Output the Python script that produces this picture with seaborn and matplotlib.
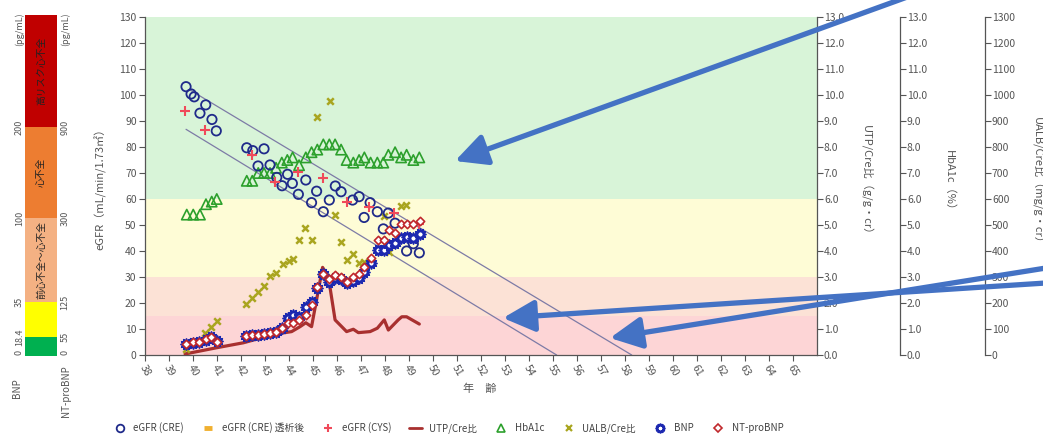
import numpy as np
import pandas as pd
import matplotlib
matplotlib.use("Agg")
import matplotlib.pyplot as plt
from matplotlib.lines import Line2D
from matplotlib.patches import FancyArrowPatch
import seaborn as sns

sns.set_style("ticks")
plt.rcParams["font.family"] = ["Noto Sans CJK JP", "DejaVu Sans"]

# ---------------- data ----------------
# eGFR (creatinine based), mL/min/1.73m2
cre_age = [39.71, 39.92, 40.05, 40.29, 40.53, 40.79, 40.97, 42.24, 42.49, 42.71, 42.96,
           43.21, 43.49, 43.71, 43.94, 44.14, 44.39, 44.70, 44.94, 45.15, 45.43, 45.68,
           45.93, 46.17, 46.65, 46.92, 47.13, 47.38, 47.68, 47.93, 48.14, 48.42, 48.90,
           49.18, 49.43]
cre_egfr = [103.2, 100.4, 99.3, 93.0, 96.2, 90.6, 86.2, 79.7, 78.6, 72.7, 79.3,
            73.1, 68.3, 65.1, 69.5, 66.0, 61.8, 67.3, 58.6, 63.0, 55.1, 59.6,
            65.0, 62.8, 59.6, 60.9, 52.9, 58.6, 55.1, 48.5, 54.6, 50.7, 40.0,
            42.8, 39.3]

# eGFR (cystatin C based)
cys_age = [39.67, 40.50, 42.45, 43.42, 44.39, 45.40, 46.40, 47.35, 48.38, 49.40]
cys_egfr = [93.8, 86.5, 76.9, 66.4, 70.5, 68.2, 59.0, 56.8, 54.6, 50.5]

# urinary total protein / creatinine ratio, g/g·cr
utp_age = [39.67, 40.99, 42.10, 42.93, 43.63, 44.11, 44.46, 44.70, 44.94, 45.40, 45.64,
           45.92, 46.40, 46.68, 46.89, 47.38, 47.68, 47.97, 48.14, 48.55, 48.70, 48.90, 49.43]
utp_val = [0.04, 0.28, 0.47, 0.68, 0.83, 0.90, 1.09, 1.24, 1.09, 3.37, 3.01,
           1.35, 0.90, 0.99, 0.86, 0.90, 1.03, 1.35, 0.96, 1.35, 1.47, 1.47, 1.19]

# HbA1c, %
hba1c_age = [39.74, 40.01, 40.29, 40.54, 40.78, 40.99, 42.24, 42.47, 42.72, 42.96, 43.21,
             43.46, 43.70, 43.93, 44.15, 44.42, 44.70, 44.94, 45.18, 45.43, 45.68, 45.92,
             46.17, 46.40, 46.68, 46.92, 47.14, 47.40, 47.68, 47.93, 48.14, 48.42, 48.67,
             48.90, 49.18, 49.43]
hba1c_val = [5.4, 5.4, 5.4, 5.8, 5.9, 6.0, 6.7, 6.7, 7.0, 7.0, 7.0,
             7.2, 7.4, 7.5, 7.6, 7.3, 7.6, 7.8, 7.9, 8.1, 8.1, 8.1,
             7.9, 7.5, 7.4, 7.5, 7.6, 7.4, 7.4, 7.4, 7.7, 7.8, 7.6,
             7.7, 7.5, 7.6]

# urinary albumin / creatinine ratio, mg/g·cr
ualb_age = [39.70, 40.50, 40.75, 40.98, 42.21, 42.47, 42.72, 42.96, 43.21, 43.46, 43.74,
            43.99, 44.15, 44.40, 44.68, 44.94, 45.15, 45.71, 45.92, 46.16, 46.41, 46.68,
            46.90, 47.12, 47.97, 48.15, 48.65, 48.89]
ualb_val = [25, 86, 106, 131, 196, 218, 244, 265, 304, 314, 350,
            363, 368, 442, 490, 441, 917, 977, 538, 436, 365, 387,
            353, 359, 534, 397, 575, 577]

# natriuretic peptides, plotted on the risk-bar scale
np_age = [39.72, 39.98, 40.25, 40.53, 40.76, 40.98, 42.22, 42.47, 42.72, 42.96, 43.21,
          43.46, 43.70, 43.95, 44.15, 44.42, 44.69, 44.94, 45.15, 45.42, 45.68, 45.92,
          46.16, 46.41, 46.67, 46.90, 47.14, 47.41, 47.69, 47.94, 48.17, 48.43, 48.68,
          48.91, 49.18, 49.44]
bnp_level = [4.2, 4.8, 5.1, 5.9, 6.9, 5.3, 7.3, 7.7, 7.7, 7.9, 8.6,
             9.0, 10.2, 14.1, 15.2, 14.6, 18.4, 20.5, 25.6, 31.0, 28.0, 29.5,
             29.3, 27.7, 28.5, 29.6, 32.0, 35.3, 40.2, 40.5, 42.3, 43.1, 45.1,
             45.5, 45.1, 46.6]
ntprobnp_level = [4.2, 4.9, 5.1, 6.0, 7.1, 5.1, 7.3, 7.7, 7.7, 7.9, 8.6,
                  9.0, 10.2, 12.4, 12.4, 13.5, 15.4, 19.2, 26.0, 31.2, 29.1, 30.8,
                  30.1, 28.2, 30.1, 31.2, 34.0, 37.2, 44.1, 44.2, 48.0, 47.0, 50.3,
                  50.5, 50.2, 51.7]

# eGFR decline guide lines (age, eGFR) end points
guide_upper_age = [39.88, 58.28]
guide_upper_egfr = [101.9, 0.0]
guide_lower_age = [39.71, 55.15]
guide_lower_egfr = [86.8, 0.0]

# CKD stage bands on the eGFR axis
band_edges = [0, 15, 30, 60, 130]
band_colors = ["#fdd5d6", "#fce2d6", "#fefcd6", "#d8f4d8"]

# heart failure risk bar
bnp_ticks = ["0", "18.4", "35", "100", "200"]
ntprobnp_ticks = ["0", "55", "125", "300", "900"]
risk_names = ["", "", "前心不全～心不全", "心不全", "高リスク心不全"]
risk_colors = ["#00b050", "#ffff00", "#f4b183", "#ed7d31", "#c00000"]
risk_span = [19, 35, 84, 91, 112]

age_ticks = list(range(38, 66))

# ---------------- layout helpers ----------------
W, H = 1043, 434
def fx(px):
    return px / W
def fy(py):
    return 1 - py / H

GRAY = "#555555"
fig = plt.figure(figsize=(W / 100, H / 100), dpi=100)

ax = fig.add_axes([fx(145), fy(355), fx(817) - fx(145), fy(17) - fy(355)])
ax.set_xlim(38, 66)
ax.set_ylim(0, 130)
for lo, hi, c in zip(band_edges[:-1], band_edges[1:], band_colors):
    ax.axhspan(lo, hi, color=c, lw=0, zorder=0)

guide_color = "#7d7ba6"
sns.lineplot(x=guide_upper_age, y=guide_upper_egfr, ax=ax, color=guide_color, lw=0.9)
sns.lineplot(x=guide_lower_age, y=guide_lower_egfr, ax=ax, color=guide_color, lw=0.9)

# secondary axes
ax_utp = ax.twinx()
ax_hb = ax.twinx()
ax_ua = ax.twinx()
ax_hb.spines["right"].set_position(("axes", 1.1235))
ax_ua.spines["right"].set_position(("axes", 1.25))
for a, top in ((ax_utp, 13), (ax_hb, 13), (ax_ua, 1300)):
    a.set_ylim(0, top)
    for s in ("top", "left", "bottom"):
        a.spines[s].set_visible(False)
    a.spines["right"].set_color(GRAY)
    a.spines["right"].set_linewidth(0.9)
    a.tick_params(axis="y", colors=GRAY, labelsize=7.5, length=4, width=0.8, pad=1)
for a in (ax_utp, ax_hb):
    a.set_yticks(np.arange(0, 13.01, 1.0))
    a.set_yticklabels([f"{v:.1f}" for v in np.arange(0, 13.01, 1.0)])
ax_ua.set_yticks(np.arange(0, 1301, 100))
ax_ua.set_yticklabels([str(v) for v in range(0, 1301, 100)])

sns.lineplot(x=utp_age, y=utp_val, ax=ax_utp, color="#a8302f", lw=2.3, sort=False, zorder=3)

sns.scatterplot(x=hba1c_age, y=hba1c_val, ax=ax_hb, marker="^", s=55,
                facecolors="none", edgecolor="#2ca02c", linewidth=1.2, zorder=4)

sns.scatterplot(x=ualb_age, y=ualb_val, ax=ax_ua, marker="x", s=22,
                color="#a9a51f", linewidth=1.8, zorder=4)

sns.scatterplot(x=cre_age, y=cre_egfr, ax=ax_ua, marker="o", s=45,
                facecolors="none", edgecolor="#1f2a8a", linewidth=1.3, zorder=5,
                transform=ax.transData)
sns.scatterplot(x=cys_age, y=cys_egfr, ax=ax_ua, marker="+", s=45,
                color="#f04a5a", linewidth=1.5, zorder=5, transform=ax.transData)
sns.scatterplot(x=np_age, y=bnp_level, ax=ax_ua, marker=(12, 1, 0), s=65,
                facecolor="white", edgecolor="#1c28b0", linewidth=1.2, zorder=6,
                transform=ax.transData)
sns.scatterplot(x=np_age, y=ntprobnp_level, ax=ax_ua, marker="D", s=18,
                facecolor="white", edgecolor="#c0282c", linewidth=1.2, zorder=7,
                transform=ax.transData)
ax_ua.set_ylim(0, 1300)

for a in (ax_utp, ax_hb, ax_ua):
    a.set_ylabel("")
    if a.get_legend():
        a.get_legend().remove()

# main axis styling
for s in ("top", "right"):
    ax.spines[s].set_visible(False)
for s in ("left", "bottom"):
    ax.spines[s].set_color(GRAY)
    ax.spines[s].set_linewidth(0.9)
ax.set_yticks(np.arange(0, 131, 10))
ax.set_xticks(age_ticks)
ax.set_xticklabels([str(v) for v in age_ticks], rotation=-60, ha="center")
ax.tick_params(axis="both", colors=GRAY, labelsize=7.5, length=4, width=0.8, pad=2)
ax.set_xlabel("")
ax.set_ylabel("")

# axis titles
fig.text(fx(100), fy(186), "eGFR（mL/min/1.73㎡）", rotation=90, ha="center", va="center",
         fontsize=8, color=GRAY)
fig.text(fx(480), fy(389), "年　齢", ha="center", va="center", fontsize=8, color=GRAY)
fig.text(fx(866), fy(183), "UTP/Cre比（g/g・cr）", rotation=270, ha="center", va="center",
         fontsize=8, color=GRAY)
fig.text(fx(949), fy(183), "HbA1c（%）", rotation=270, ha="center", va="center",
         fontsize=8, color=GRAY)
fig.text(fx(1037), fy(183), "UALB/Cre比（mg/g・cr）", rotation=270, ha="center", va="center",
         fontsize=8, color=GRAY)

# heart failure risk bar
bx = fig.add_axes([fx(25), fy(356), fx(57) - fx(25), fy(15) - fy(356)])
bottoms = np.concatenate([[0], np.cumsum(risk_span)[:-1]])
bx.bar([0] * len(risk_span), risk_span, bottom=bottoms, width=1.0, color=risk_colors, lw=0)
bx.set_xlim(-0.5, 0.5)
bx.set_ylim(0, sum(risk_span))
bx.axis("off")
for b, h, name in zip(bottoms, risk_span, risk_names):
    if name:
        bx.text(0, b + h / 2, name, rotation=90, ha="center", va="center", fontsize=7,
                color="#222222")
for b, lb, lr in zip(bottoms, bnp_ticks, ntprobnp_ticks):
    yy = max(b, 4)
    bx.text(-0.68, yy, lb, rotation=90, ha="center", va="center", fontsize=6.5, color=GRAY)
    bx.text(0.75, yy, lr, rotation=90, ha="center", va="center", fontsize=6.5, color=GRAY)
for xx in (-0.68, 0.75):
    bx.text(xx, sum(risk_span) - 14, "(pg/mL)", rotation=90, ha="center", va="center",
            fontsize=6.5, color=GRAY)
fig.text(fx(17), fy(388), "BNP", rotation=90, ha="center", va="center", fontsize=7, color=GRAY)
fig.text(fx(66), fy(391), "NT-proBNP", rotation=90, ha="center", va="center", fontsize=7,
         color=GRAY)

# legend
handles = [
    Line2D([], [], ls="none", marker="o", mfc="none", mec="#1f2a8a", mew=1.3, ms=5.5),
    Line2D([], [], ls="none", marker="_", color="#f0b030", mew=3.5, ms=6),
    Line2D([], [], ls="none", marker="+", color="#f04a5a", mew=1.5, ms=6),
    Line2D([], [], color="#a8302f", lw=2.0),
    Line2D([], [], ls="none", marker="^", mfc="none", mec="#2ca02c", mew=1.2, ms=6),
    Line2D([], [], ls="none", marker="x", color="#a9a51f", mew=1.6, ms=4.5),
    Line2D([], [], ls="none", marker=(12, 1, 0), mfc="white", mec="#1c28b0", mew=1.2, ms=7),
    Line2D([], [], ls="none", marker="D", mfc="white", mec="#c0282c", mew=1.2, ms=4.5),
]
labels = ["eGFR (CRE)", "eGFR (CRE) 透析後", "eGFR (CYS)", "UTP/Cre比", "HbA1c",
          "UALB/Cre比", "BNP", "NT-proBNP"]
fig.legend(handles, labels, loc="center", bbox_to_anchor=(fx(448), fy(428)), ncol=8,
           frameon=False, fontsize=7, handlelength=1.4, handletextpad=0.7,
           columnspacing=1.8, labelcolor="#444444")

# call-out arrows
arrow_kw = dict(arrowstyle="-|>,head_length=1.2,head_width=0.6", color="#4472c4", lw=3.8,
                mutation_scale=16, shrinkA=0, shrinkB=0)
for tail, head in (((910, -4), (455, 161)),
                   ((1046, 283), (503, 318)),
                   ((1046, 268), (610, 338))):
    fig.add_artist(FancyArrowPatch(
        (fx(tail[0]), fy(tail[1])), (fx(head[0]), fy(head[1])),
        transform=fig.transFigure, **arrow_kw))

fig.savefig("out.png", dpi=100)
